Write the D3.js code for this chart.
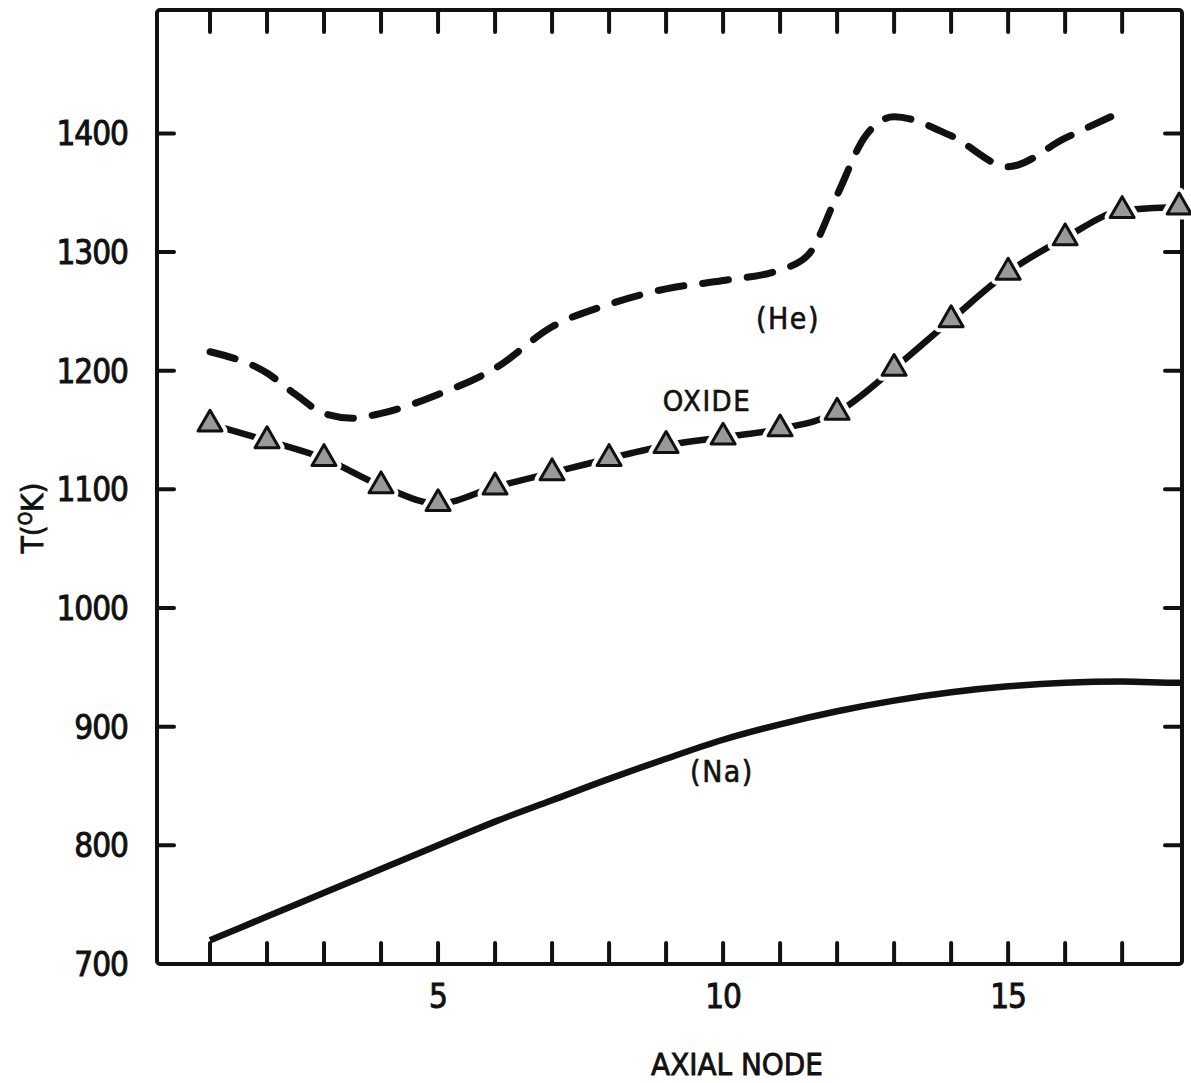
<!DOCTYPE html>
<html>
<head>
<meta charset="utf-8">
<script src="https://cdn.jsdelivr.net/npm/d3@7"></script>
<style>
  body { margin: 0; background: #fff; }
  text { font-family: "DejaVu Sans Condensed", "DejaVu Sans", sans-serif; fill: #111; }
</style>
</head>
<body>
<div id="chart"></div>
<script>
// values
var nodes = [1, 2, 3, 4, 5, 6, 7, 8, 9, 10, 11, 12, 13, 14, 15, 16, 17, 18];
var naTemp = [720, 740, 760, 780, 800, 820, 838, 856, 873, 889, 902, 913, 922, 929, 934, 937, 938, 937];
var oxideTemp = [1155, 1141, 1126, 1103, 1088, 1102, 1114, 1126, 1137, 1144, 1151, 1165, 1202, 1243, 1283, 1312, 1335, 1338];
var heNodes = [1, 2, 2.5, 3, 3.5, 4, 5, 6, 7, 8, 9, 10, 11, 11.5, 12, 12.5, 13, 14, 15, 16, 16.8];
var heTemp = [1216, 1198, 1180, 1164, 1160, 1164, 1180, 1202, 1237, 1256, 1269, 1276, 1285, 1298, 1348, 1398, 1414, 1398, 1372, 1396, 1414];
var xTicks = [1, 2, 3, 4, 5, 6, 7, 8, 9, 10, 11, 12, 13, 14, 15, 16, 17];
var xTickLabels = [5, 10, 15];
var yTicks = [800, 900, 1000, 1100, 1200, 1300, 1400];
var yTickLabels = [700, 800, 900, 1000, 1100, 1200, 1300, 1400];

var margin = {top: 10, right: 9, bottom: 119, left: 157},
    width = 1191 - margin.left - margin.right,
    height = 1083 - margin.top - margin.bottom;

var svg = d3.select("#chart")
  .append("svg")
    .attr("width", width + margin.left + margin.right)
    .attr("height", height + margin.top + margin.bottom)
  .append("g")
    .attr("transform", "translate(" + margin.left + "," + margin.top + ")");

var x = d3.scaleLinear().domain([0.07, 18.05]).range([0, width]);
var y = d3.scaleLinear().domain([700, 1504]).range([height, 0]);

var ink = "#111";

// frame
svg.append("rect")
  .attr("x", 0).attr("y", 0)
  .attr("width", width).attr("height", height)
  .attr("rx", 3)
  .attr("fill", "none")
  .attr("stroke", ink)
  .attr("stroke-width", 4);

// ticks, all pointing inward
function tickLines(cls, data, x1, y1, x2, y2) {
  svg.selectAll("." + cls)
    .data(data)
    .enter()
    .append("line")
      .attr("class", cls)
      .attr("x1", x1).attr("y1", y1)
      .attr("x2", x2).attr("y2", y2)
      .attr("stroke", ink)
      .attr("stroke-width", 4)
      .attr("stroke-linecap", "round");
}
tickLines("tick-b", xTicks, function(d) { return x(d); }, height, function(d) { return x(d); }, height - 21);
tickLines("tick-t", xTicks, function(d) { return x(d); }, 0, function(d) { return x(d); }, 22);
tickLines("tick-l", yTicks, 0, function(d) { return y(d); }, 17, function(d) { return y(d); });
tickLines("tick-r", yTicks, width, function(d) { return y(d); }, width - 17, function(d) { return y(d); });

// tick labels
svg.selectAll(".ylab")
  .data(yTickLabels)
  .enter()
  .append("text")
    .attr("class", "ylab")
    .attr("x", -29)
    .attr("y", function(d) { return y(d); })
    .attr("dy", "0.36em")
    .attr("text-anchor", "end")
    .style("font-size", "33px")
    .style("letter-spacing", "-1px")
    .style("stroke", ink)
    .style("stroke-width", "0.9px")
    .text(function(d) { return d; });

svg.selectAll(".xlab")
  .data(xTickLabels)
  .enter()
  .append("text")
    .attr("class", "xlab")
    .attr("x", function(d) { return x(d); })
    .attr("y", height + 44)
    .attr("text-anchor", "middle")
    .style("font-size", "33px")
    .style("letter-spacing", "-1px")
    .style("stroke", ink)
    .style("stroke-width", "0.9px")
    .text(function(d) { return d; });

// axis titles
svg.append("text")
  .attr("x", 737 - margin.left)
  .attr("y", 1075 - margin.top)
  .attr("text-anchor", "middle")
  .style("font-size", "31px")
  .style("stroke", ink)
  .style("stroke-width", "0.8px")
  .text("AXIAL NODE");

var yTitle = svg.append("text")
  .attr("transform", "translate(" + (43 - margin.left) + "," + (518 - margin.top) + ") rotate(-90)")
  .attr("text-anchor", "middle")
  .style("font-size", "31px")
  .style("stroke", ink)
  .style("stroke-width", "0.8px");
yTitle.append("tspan").text("T(");
yTitle.append("tspan").attr("dy", -11).style("font-size", "19px").text("O");
yTitle.append("tspan").attr("dy", 11).text("K)");

// curves
var line = d3.line()
  .x(function(d) { return x(d[0]); })
  .y(function(d) { return y(d[1]); })
  .curve(d3.curveMonotoneX);

var naData = nodes.map(function(n, i) { return [n, naTemp[i]]; });
naData.push([18.05, 937]);
var oxData = nodes.map(function(n, i) { return [n, oxideTemp[i]]; });
var heData = heNodes.map(function(n, i) { return [n, heTemp[i]]; });

svg.append("path")
  .datum(naData)
  .attr("d", line)
  .attr("fill", "none")
  .attr("stroke", ink)
  .attr("stroke-width", 6.5);

svg.append("path")
  .datum(heData)
  .attr("d", line)
  .attr("fill", "none")
  .attr("stroke", ink)
  .attr("stroke-width", 7)
  .attr("stroke-linecap", "round")
  .style("stroke-dasharray", "26, 19");

svg.append("path")
  .datum(oxData)
  .attr("d", line)
  .attr("fill", "none")
  .attr("stroke", ink)
  .attr("stroke-width", 6.5)
  .attr("stroke-linecap", "round");

// triangles with a white halo to break the oxide line into dashes
var tri = d3.symbol().type(d3.symbolTriangle).size(250);
svg.selectAll(".halo")
  .data(oxData)
  .enter()
  .append("path")
    .attr("class", "halo")
    .attr("transform", function(d) { return "translate(" + x(d[0]) + "," + y(d[1]) + ")"; })
    .attr("d", tri)
    .attr("fill", "#fff")
    .attr("stroke", "#fff")
    .attr("stroke-width", 11)
    .attr("stroke-linejoin", "round");
svg.selectAll(".marker")
  .data(oxData)
  .enter()
  .append("path")
    .attr("class", "marker")
    .attr("transform", function(d) { return "translate(" + x(d[0]) + "," + y(d[1]) + ")"; })
    .attr("d", tri)
    .attr("fill", "#999")
    .attr("stroke", ink)
    .attr("stroke-width", 3)
    .attr("stroke-linejoin", "round");

// curve labels
function curveLabel(txt, cx, cy, size) {
  svg.append("text")
    .attr("x", cx - margin.left)
    .attr("y", cy - margin.top)
    .attr("dy", "0.36em")
    .attr("text-anchor", "middle")
    .style("font-size", size + "px")
    .style("letter-spacing", "1.5px")
    .style("stroke", ink)
    .style("stroke-width", "0.6px")
    .text(txt);
}
curveLabel("OXIDE", 707, 401, 29);
curveLabel("(He)", 788, 318, 30);
curveLabel("(Na)", 722, 771, 30);
</script>
</body>
</html>
